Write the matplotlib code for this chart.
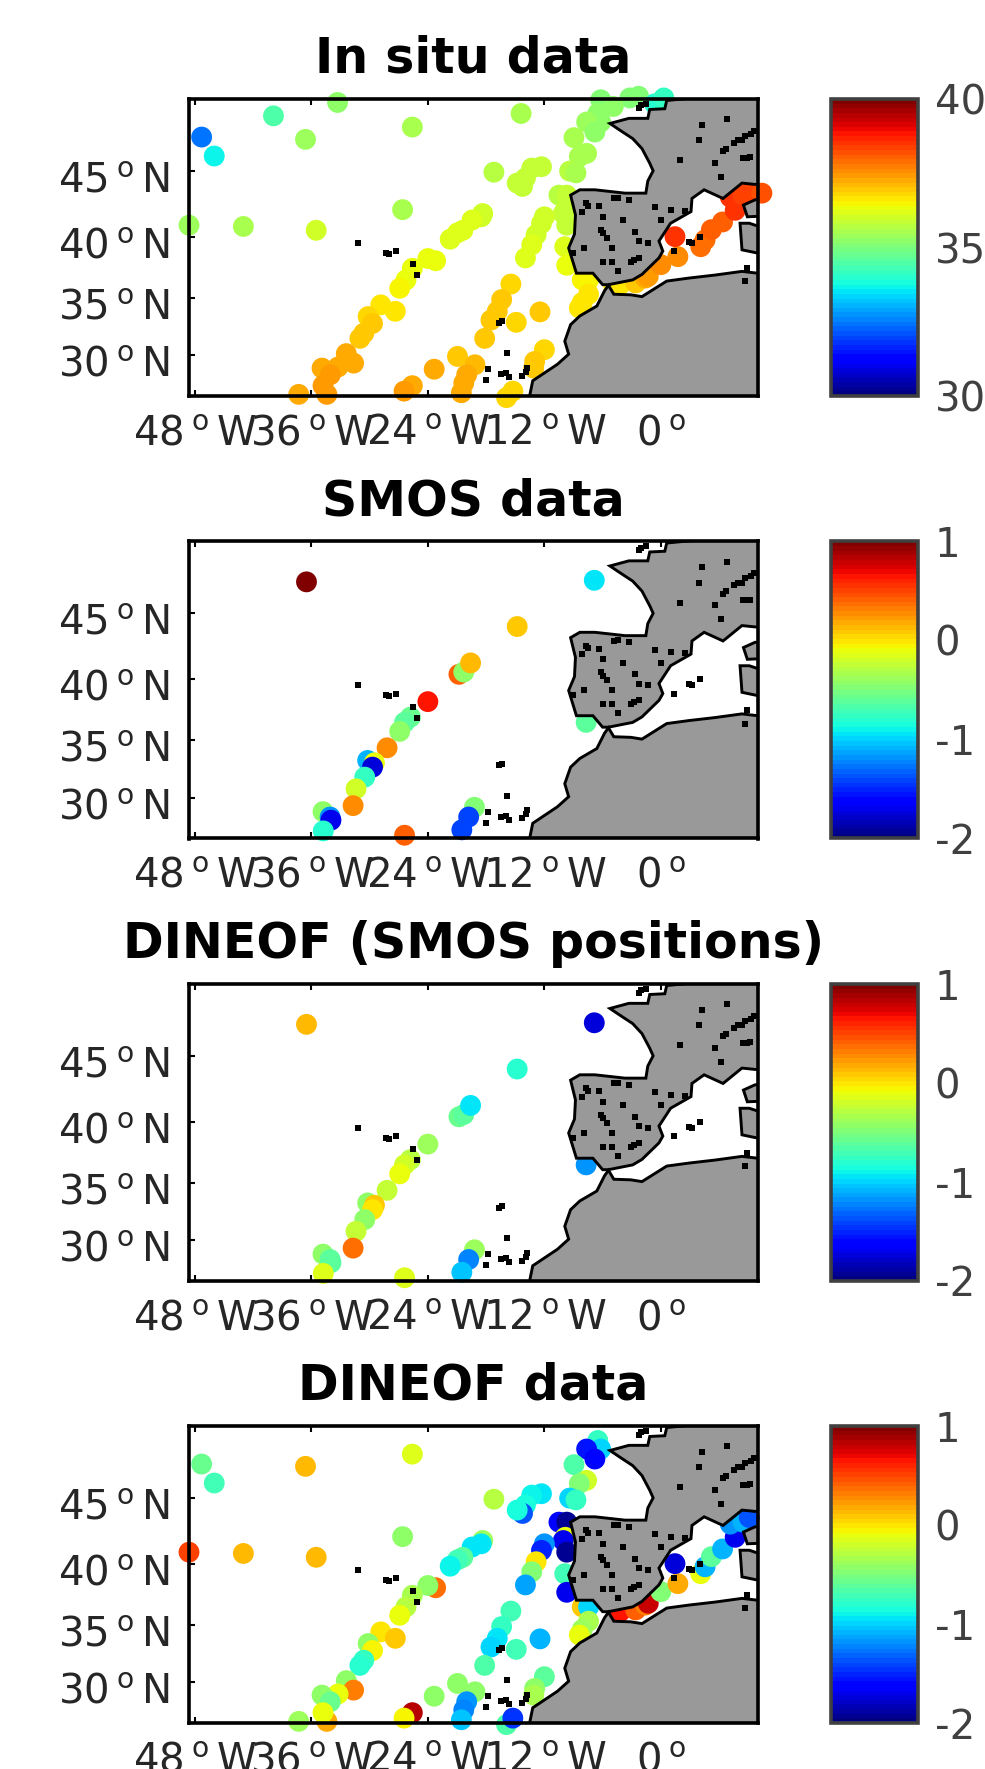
import numpy as np
import matplotlib
matplotlib.use('Agg')
import matplotlib.pyplot as plt
from matplotlib.cm import ScalarMappable
from matplotlib.colors import Normalize
from matplotlib.transforms import ScaledTranslation

plt.rcParams['font.family'] = ['DejaVu Sans']
plt.rcParams['mathtext.default'] = 'regular'
plt.rcParams['axes.unicode_minus'] = False
nan = float('nan')

# track positions (in situ and DINEOF panels share them)
track_lon = [-47.3, -46.0, -39.9, -33.3, -36.6, -25.6, -14.4, -6.2, -3.2, -2.3, -0.65, 0.3, -4.9,
             -6.5, -6.2, -7.65, -6.8, -8.95, -7.65, -8.4, -9.4, -8.75, -10.5, -9.7, -9.85, -10.05,
             -12.0, -12.3, -9.7, -12.85, -13.3, -9.9, -13.95, -9.7, -8.1, -7.45, -7.45, -8.1, -8.4,
             -26.6, -48.6, -43.0, -35.5, -18.35, -18.5, -19.45, -20.4, -20.95, -21.7,
             -23.2, -24.0, -25.6, -26.25, -26.9, -28.85, -27.35, -30.15, -29.7, -30.6, -31.0,
             -32.4, -31.65, -33.25, -34.9, -34.05, -34.4, -34.8, -37.3, -25.6, -26.45, -23.35,
             -15.45, -16.4, -16.85, -17.5, -18.15, -20.95, -19.15, -20.0, -20.3, -20.55,
             -14.9, -12.45, -12.0, -13.0, -13.1, -15.9, -15.25, -17.2, -12.3, -13.3, -13.95, -14.25, -14.8,
             -4.85, -4.2, -2.6, -1.6, -1.3, 0.0, 1.75, 1.45, 4.1, 4.55, 5.2, 6.35, 7.65, 7.15, 8.45, 9.1, 10.4]
track_lat = [47.41, 46.07, 48.87, 49.77, 47.25, 48.1, 49.03, 49.95, 50.07, 50.18, 49.68, 50.07, 49.5,
             49.03, 48.45, 48.45, 47.76, 47.37, 46.26, 46.03, 44.98, 44.85, 43.2, 43.2, 42.05, 41.8,
             41.55, 41.04, 40.9, 40.15, 39.35, 39.2, 38.3, 37.7, 36.5, 36.5, 35.3, 34.6, 34.13,
             42.1, 40.9, 40.8, 40.5, 41.8, 41.55, 41.3, 40.5, 40.3, 39.8,
             38.07, 38.25, 37.45, 36.5, 35.8, 34.4, 33.85, 33.4, 32.8, 31.95, 31.5,
             30.15, 29.3, 28.95, 28.85, 28.25, 26.45, 27.25, 26.45, 27.25, 26.75, 28.75,
             36.15, 34.85, 33.85, 33.1, 31.5, 29.9, 29.15, 28.25, 27.5, 26.6,
             32.9, 33.8, 30.5, 29.45, 28.85, 26.15, 26.75, 44.9, 45.3, 45.2, 44.47, 43.85, 44.1,
             35.95, 36.1, 36.25, 36.65, 36.8, 37.75, 38.4, 40.0, 39.2, 39.75, 40.55, 41.15, 42.05, 43.05, 43.2, 43.55, 43.35]
insitu = [32.4, 33.6, 34.5, 35.2, 35.4, 35.5, 35.5, 35.0, 35.0, 35.1, 34.0, 34.2, 35.2,
          35.2, 35.2, 35.4, 35.3, 35.6, 35.6, 35.6, 35.7, 35.6, 35.7, 35.8, 35.9, 35.9,
          36.0, 36.0, 35.9, 36.0, 36.1, 36.2, 36.2, 36.3, 36.5, 36.5, 36.6, 36.6, 36.6,
          35.5, 35.4, 35.6, 36.0, 36.0, 36.0, 36.1, 36.1, 36.1, 36.2,
          36.4, 36.3, 36.4, 36.4, 36.5, 36.6, 36.7, 36.8, 36.9, 36.9, 37.0,
          37.2, 37.2, 37.3, 37.3, 37.4, 37.4, 37.4, 37.3, 37.3, 37.4, 37.3,
          36.8, 36.9, 36.9, 36.9, 37.0, 37.0, 37.1, 37.2, 37.3, 37.3,
          36.8, 36.9, 36.8, 36.9, 36.9, 36.8, 36.8, 35.7, 35.8, 35.8, 35.8, 35.8, 35.8,
          36.7, 36.7, 37.0, 37.3, 37.4, 37.5, 37.6, 38.5, 37.9, 37.9, 38.0, 38.1, 38.5, 38.5, 38.3, 38.3, 38.2]
dineof = [-0.55, -0.7, nan, nan, 0.15, -0.15, nan, nan, nan, nan, nan, nan, nan,
          -0.75, -1.0, -1.55, -1.6, -0.65, -0.2, -0.5, -1.0, -0.75, -1.6, -1.95, -0.1, -1.7,
          -1.2, -1.5, -1.95, 0.0, -0.5, -0.7, -1.15, -1.7, 0.1, -1.0, -0.35, -0.4, -0.1,
          -0.45, 0.5, 0.15, 0.15, -0.4, -0.95, -0.95, -0.6, -0.7, -0.9,
          0.35, -0.45, -0.35, -0.3, -0.1, 0.0, 0.1, -0.45, -0.05, -0.75, -0.8,
          -0.45, 0.3, -0.1, -0.45, -0.55, 0.2, -0.1, -0.4, 0.85, -0.05, -0.45,
          -0.7, -0.75, -0.95, -1.0, -0.65, -0.45, -0.45, -1.2, -1.25, -1.05,
          -0.7, -1.1, -0.6, -0.45, -0.35, -0.65, -1.45, -0.3, -0.95, -0.9, -0.85, -1.35, -0.85,
          nan, 0.65, 0.4, 0.3, 0.8, -0.5, 0.2, -1.75, -0.1, -1.1, -0.6, -1.1, -1.7, -1.2, -1.1, -1.35, nan]

# SMOS overpass positions
smos_lon = [-36.5, -6.86, -14.8, -20.8, -20.3, -19.6, -24.0, -25.8, -26.4, -26.9, -28.2, -30.2, -29.5,
            -29.7, -30.5, -31.4, -31.7, -34.8, -34.07, -33.98, -34.77, -26.4, -19.2, -19.8, -20.5, -7.7]
smos_lat = [47.25, 47.36, 44.03, 40.38, 40.56, 41.27, 38.2, 36.93, 36.5, 35.75, 34.36, 33.28, 33.08,
            32.7, 31.83, 30.8, 29.3, 28.76, 28.27, 27.98, 27.0, 26.6, 29.15, 28.27, 27.1, 36.5]
smos = [1.0, -0.95, 0.1, 0.4, -0.45, 0.12, 0.65, -0.55, -0.6, -0.45, 0.25, -1.1, -0.1,
        -1.75, -0.75, -0.2, 0.25, -0.45, -1.2, -1.7, -0.8, 0.4, -0.5, -1.4, -1.4, -0.6]
dineof_smos = [0.15, -1.75, -0.8, -0.55, -0.6, -0.95, -0.4, -0.3, -0.2, -0.1, -0.25, -0.45, 0.1,
               0.0, -0.45, -0.25, 0.35, -0.45, -0.6, -0.6, -0.15, -0.15, -0.4, -1.25, -1.05, -1.2]

# coast outlines
europe_lon = [0.6, 0.4, -1.15, -1.35, -3.3, -5.25, -4.25, -2.9, -1.95, -1.15, -0.8, -1.35, -1.55, -3.7,
              -6.8, -8.35, -9.3, -8.8, -8.9, -9.5, -8.7, -7.0, -6.0, -5.4, -2.9, -1.95, -0.2, 0.2, -0.2,
              1.0, 3.1, 3.2, 4.45, 6.4, 8.35, 9.7, 10.5, 10.5]
europe_lat = [49.9, 49.35, 49.3, 48.7, 48.7, 48.35, 47.9, 47.3, 46.6, 45.55, 45.0, 44.25, 43.35, 43.35,
              43.6, 43.6, 43.2, 41.7, 40.2, 39.1, 37.05, 37.05, 36.1, 36.1, 36.5, 36.95, 38.3, 38.85, 39.65,
              41.05, 41.95, 42.95, 43.6, 42.95, 44.1, 44.0, 44.0, 50.5]
africa_lon = [-5.4, -4.85, -3.1, -1.95, 0.6, 2.9, 5.6, 8.35, 10.5, 10.5, -13.7, -13.2, -10.65, -9.5,
              -9.9, -9.3, -8.35, -6.6, -5.8]
africa_lat = [36.05, 35.3, 35.25, 35.1, 36.4, 36.65, 36.9, 37.2, 37.0, 25.5, 25.5, 27.7, 29.2, 30.1,
              31.25, 32.7, 33.45, 34.3, 35.6]
corsica_lon = [8.5, 9.7, 10.5, 10.5, 8.9]
corsica_lat = [42.45, 42.85, 42.85, 41.6, 41.55]
sardinia_lon = [8.15, 9.1, 10.5, 10.5, 8.35]
sardinia_lat = [41.05, 41.05, 40.7, 38.6, 38.95]

# islands and lakes, the black bits on the map
speck_lon = [-31.2, -28.3, -27.3, -28.0, -25.5, -25.1, -16.7, -16.4, -15.9, -17.8, -16.5, -16.0, -15.6, -18.0, -13.75, -13.9, -14.35,
             2.9, 3.2, 1.35, 4.05, -6.0, -7.75, -7.5, -6.4, -8.15, -4.85, -4.4, -3.3, -0.6, 1.0, 2.5, 0.0, -3.9, -2.7, -6.2, -6.0,
             -5.6, -5.0, -7.95, -6.0, -5.0, -4.45, -3.1, -2.8, -2.3, -2.3, -1.35, -9.1,
             4.25, 6.8, 3.9, 1.95, 6.2, 6.4, 6.7, 7.55, 7.9, 8.9, 9.2, 5.6, 8.35, 8.7, 9.3, 9.6, 8.5, 8.65, 8.9, -2.3, -2.0, -1.55]
speck_lat = [39.5, 38.7, 38.85, 38.65, 37.8, 36.9, 32.85, 33.0, 30.2, 28.75, 28.3, 28.4, 28.0, 27.75, 28.9, 28.5, 28.15,
             39.6, 39.5, 38.85, 40.0, 41.55, 42.6, 42.4, 42.35, 41.95, 42.95, 43.0, 42.85, 42.3, 42.1, 42.0, 41.3, 41.3, 40.4, 40.55, 40.25,
             39.9, 39.1, 39.1, 38.0, 38.0, 37.25, 38.0, 38.15, 38.3, 39.65, 39.5, 38.7,
             48.25, 48.65, 47.2, 45.75, 44.55, 46.4, 46.6, 47.0, 47.2, 45.95, 46.0, 45.6, 47.2, 47.5, 47.65, 47.85, 45.95, 36.4, 37.5, 49.4, 49.6, 49.7]

lon_ticks = [-48, -36, -24, -12, 0]
lon_labels = ['48$\\,{}^{o}\\,$W', '36$\\,{}^{o}\\,$W', '24$\\,{}^{o}\\,$W', '12$\\,{}^{o}\\,$W', '0$\\,{}^{o}$']
lat_ticks = [30, 35, 40, 45]
lat_labels = ['30$\\,{}^{o}\\,$N', '35$\\,{}^{o}\\,$N', '40$\\,{}^{o}\\,$N', '45$\\,{}^{o}\\,$N']


def merc(lat):
    return np.log(np.tan(np.pi / 4 + np.radians(lat) / 2))


def inv_merc(y):
    return np.degrees(2 * np.arctan(np.exp(y)) - np.pi / 2)


W, H = 985, 1769
fig = plt.figure(figsize=(W / 100, H / 100), dpi=100)
cmap = plt.get_cmap('jet', 64)

panels = [
    ('In situ data', track_lon, track_lat, insitu, 30, 40, [30, 35, 40], 99),
    ('SMOS data', smos_lon, smos_lat, smos, -2, 1, [-2, -1, 0, 1], 541.5),
    ('DINEOF (SMOS positions)', smos_lon, smos_lat, dineof_smos, -2, 1, [-2, -1, 0, 1], 984),
    ('DINEOF data', track_lon, track_lat, dineof, -2, 1, [-2, -1, 0, 1], 1426),
]

for title, lon, lat, vals, vmin, vmax, cticks, top in panels:
    ax = fig.add_axes([189 / W, 1 - (top + 297) / H, 569 / W, 297 / H])
    ax.set_yscale('function', functions=(merc, inv_merc))
    ax.scatter(lon, lat, c=vals, s=225, cmap=cmap, vmin=vmin, vmax=vmax,
               linewidths=0, zorder=2, clip_on=False)
    for plon, plat in [(europe_lon, europe_lat), (africa_lon, africa_lat),
                       (corsica_lon, corsica_lat), (sardinia_lon, sardinia_lat)]:
        ax.fill(plon, plat, facecolor='#999999', edgecolor='black', linewidth=2.1, zorder=3)
    ax.plot(speck_lon, speck_lat, ls='none', marker='s', ms=3.8, color='black', mew=0, zorder=4)

    ax.set_xlim(-48.6, 10)
    ax.set_ylim(26.3, 50)
    ax.set_xticks(lon_ticks)
    ax.set_xticklabels(lon_labels)
    ax.set_yticks(lat_ticks)
    ax.set_yticklabels(lat_labels)
    ax.minorticks_off()
    ax.tick_params(direction='in', top=True, right=True, length=4, width=1.5,
                   labelsize=29, labelcolor='#262626')
    ax.tick_params(axis='x', pad=13)
    ax.tick_params(axis='y', pad=14)
    # digits sit a bit under the tick in the original
    for lbl in ax.get_yticklabels():
        lbl.set_transform(lbl.get_transform() + ScaledTranslation(0, -0.06, fig.dpi_scale_trans))
    for sp in ax.spines.values():
        sp.set_linewidth(2.6)
        sp.set_zorder(6)
    ax.set_title(title, fontsize=35.3, fontweight='bold', pad=19)

    cax = fig.add_axes([831 / W, 1 - (top + 297) / H, 87 / W, 297 / H])
    cb = fig.colorbar(ScalarMappable(Normalize(vmin, vmax), cmap), cax=cax)
    cb.set_ticks(cticks)
    cb.ax.tick_params(length=0, labelsize=29, labelcolor='#404040', pad=12)
    cb.outline.set_linewidth(2.6)
    cb.outline.set_edgecolor('#404040')

fig.savefig('out.png', dpi=100)
